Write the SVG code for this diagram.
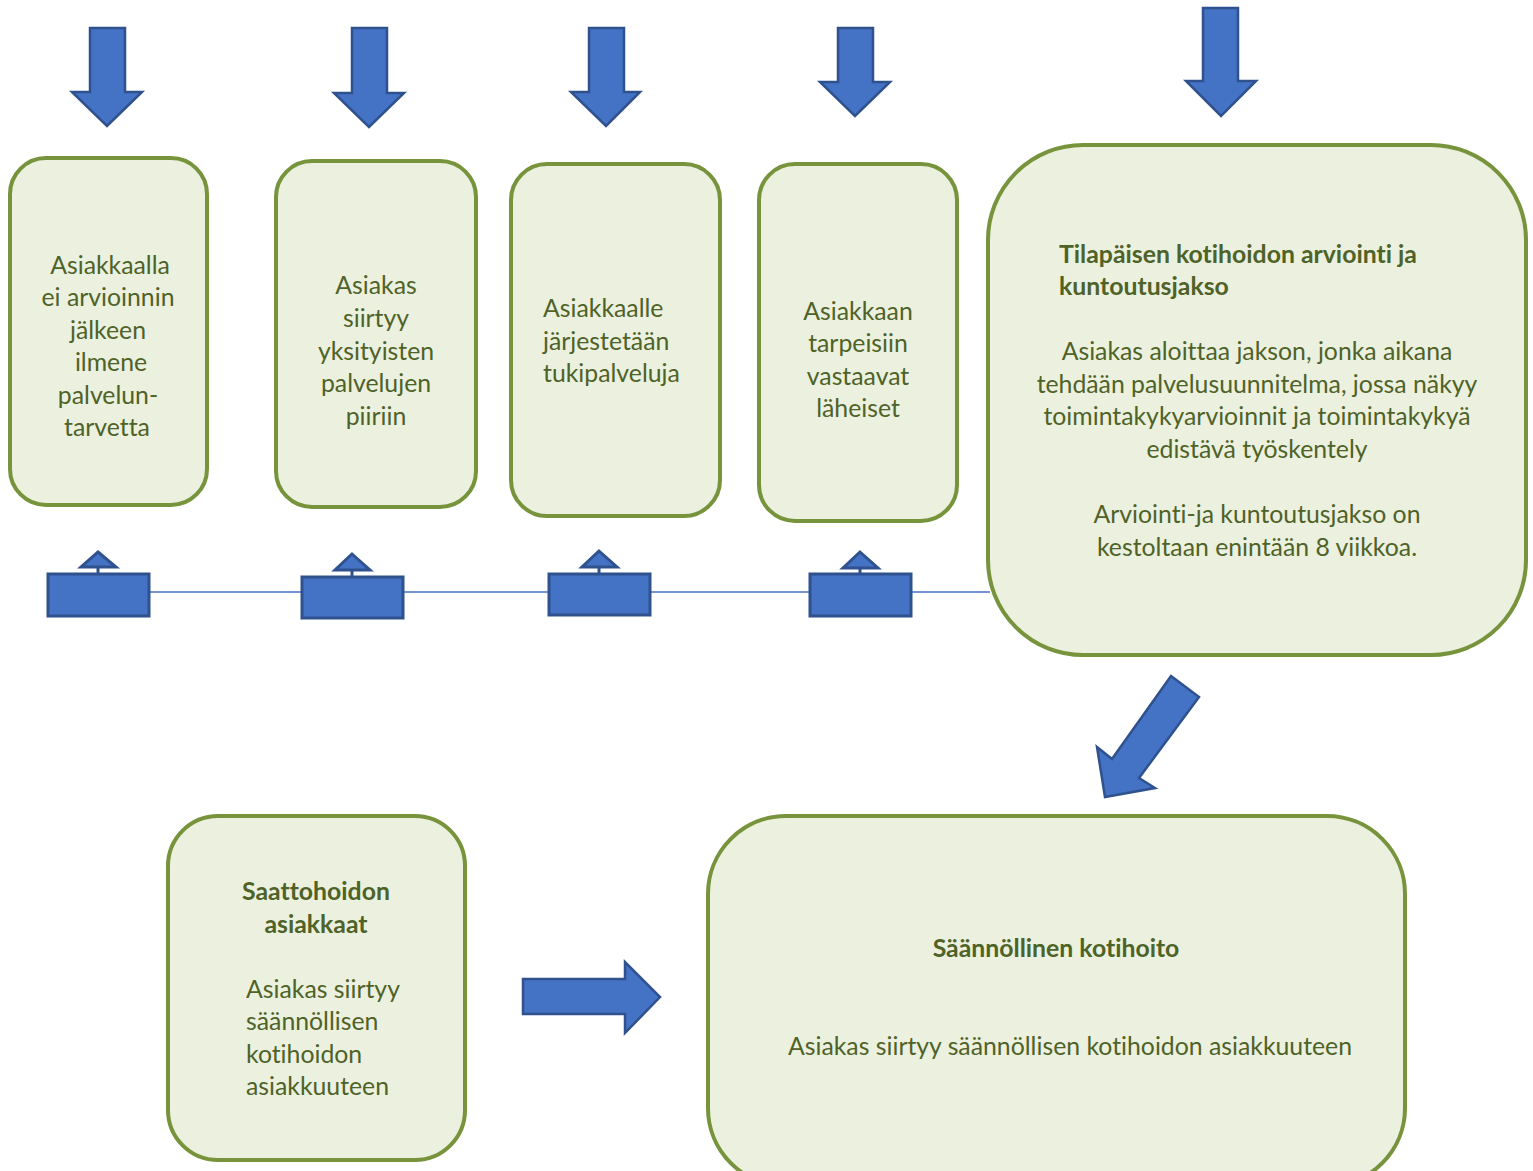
<svg xmlns="http://www.w3.org/2000/svg" width="1533" height="1171" viewBox="0 0 1533 1171">
<style>
.box{fill:#EBF1DE;stroke:#77933C;stroke-width:4}
.arr{fill:#4472C4;stroke:#2F528F;stroke-width:2.5;stroke-linejoin:miter}
.sm{fill:#4472C4;stroke:#2F528F;stroke-width:3}
.t{font-family:Lato,"Open Sans","Liberation Sans",sans-serif;font-size:24.8px;fill:#4F6228;font-variant-ligatures:none}
.c{text-anchor:middle}
.b{font-weight:bold}
</style>
<rect width="1533" height="1171" fill="#FFFFFF"/>
<g id="connectors">
<line x1="150" y1="592" x2="990" y2="592" stroke="#4472C4" stroke-width="1.5"/>
<polygon class="arr" points="90,28 125,28 125,92 142,92 107,126 72,92 90,92"/>
<polygon class="arr" points="352,28 387,28 387,93 404,93 369,127 334,93 352,93"/>
<polygon class="arr" points="589,28 624,28 624,92 640,92 606,126 571,92 589,92"/>
<polygon class="arr" points="838,28 873,28 873,82 890,82 855,116 820,82 838,82"/>
<polygon class="arr" points="1203,8 1238,8 1238,81 1256,81 1221,116 1186,81 1203,81"/>
<polygon class="arr" points="1171,676 1199,697 1139,778 1155,788 1105,797 1097,747 1112,759"/>
<polygon class="arr" points="523,979 625,979 625,962 660,997 625,1033 625,1014 523,1014"/>
</g>
<g id="conn1">
<rect class="sm" x="48" y="574" width="101" height="42"/>
<line x1="98" y1="567" x2="98" y2="574" stroke="#2F528F" stroke-width="3"/>
<polygon class="sm" points="98,552 116,567 81,567" stroke-width="2"/>
</g>
<g id="conn2">
<rect class="sm" x="302" y="577" width="101" height="41"/>
<line x1="352" y1="570" x2="352" y2="577" stroke="#2F528F" stroke-width="3"/>
<polygon class="sm" points="352,554 370,570 335,570" stroke-width="2"/>
</g>
<g id="conn3">
<rect class="sm" x="549" y="574" width="101" height="41"/>
<line x1="599" y1="567" x2="599" y2="574" stroke="#2F528F" stroke-width="3"/>
<polygon class="sm" points="599,551 617,567 582,567" stroke-width="2"/>
</g>
<g id="conn4">
<rect class="sm" x="810" y="574" width="101" height="42"/>
<line x1="860" y1="568" x2="860" y2="574" stroke="#2F528F" stroke-width="3"/>
<polygon class="sm" points="860,552 878,568 843,568" stroke-width="2"/>
</g>
<g id="node1">
<rect class="box" x="10" y="158" width="197" height="347" rx="36"/>
<text class="t c"><tspan x="110" y="274">Asiakkaalla</tspan><tspan x="108" y="306">ei arvioinnin</tspan><tspan x="108" y="339">jälkeen</tspan><tspan x="111" y="371">ilmene</tspan><tspan x="108" y="404">palvelun-</tspan><tspan x="107" y="436">tarvetta</tspan></text>
</g>
<g id="node2">
<rect class="box" x="276" y="161" width="200" height="346" rx="36"/>
<text class="t c"><tspan x="376" y="294">Asiakas</tspan><tspan x="376" y="327">siirtyy</tspan><tspan x="376" y="360">yksityisten</tspan><tspan x="376" y="392">palvelujen</tspan><tspan x="376" y="425">piiriin</tspan></text>
</g>
<g id="node3">
<rect class="box" x="511" y="164" width="209" height="352" rx="36"/>
<text class="t"><tspan x="543" y="317">Asiakkaalle</tspan><tspan x="543" y="350">järjestetään</tspan><tspan x="543" y="382">tukipalveluja</tspan></text>
</g>
<g id="node4">
<rect class="box" x="759" y="164" width="198" height="357" rx="36"/>
<text class="t c"><tspan x="858" y="320">Asiakkaan</tspan><tspan x="858" y="352">tarpeisiin</tspan><tspan x="858" y="385">vastaavat</tspan><tspan x="858" y="417">läheiset</tspan></text>
</g>
<g id="node5">
<rect class="box" x="988" y="145" width="538" height="510" rx="95"/>
<text class="t b"><tspan x="1059" y="263">Tilapäisen kotihoidon arviointi ja</tspan><tspan x="1059" y="295">kuntoutusjakso</tspan></text>
<text class="t c"><tspan x="1257" y="360">Asiakas aloittaa jakson, jonka aikana</tspan><tspan x="1257" y="393">tehdään palvelusuunnitelma, jossa näkyy</tspan><tspan x="1257" y="425">toimintakykyarvioinnit ja toimintakykyä</tspan><tspan x="1257" y="458">edistävä työskentely</tspan><tspan x="1257" y="523">Arviointi-ja kuntoutusjakso on</tspan><tspan x="1257" y="556">kestoltaan enintään 8 viikkoa.</tspan></text>
</g>
<g id="node6">
<rect class="box" x="168" y="816" width="297" height="344" rx="50"/>
<text class="t c b"><tspan x="316" y="900">Saattohoidon</tspan><tspan x="316" y="933">asiakkaat</tspan></text>
<text class="t"><tspan x="246" y="998">Asiakas siirtyy</tspan><tspan x="246" y="1030">säännöllisen</tspan><tspan x="246" y="1063">kotihoidon</tspan><tspan x="246" y="1095">asiakkuuteen</tspan></text>
</g>
<g id="node7">
<rect class="box" x="708" y="816" width="697" height="370" rx="78"/>
<text class="t c b" x="1056" y="957">Säännöllinen kotihoito</text>
<text class="t c" x="1070" y="1055">Asiakas siirtyy säännöllisen kotihoidon asiakkuuteen</text>
</g>
</svg>
